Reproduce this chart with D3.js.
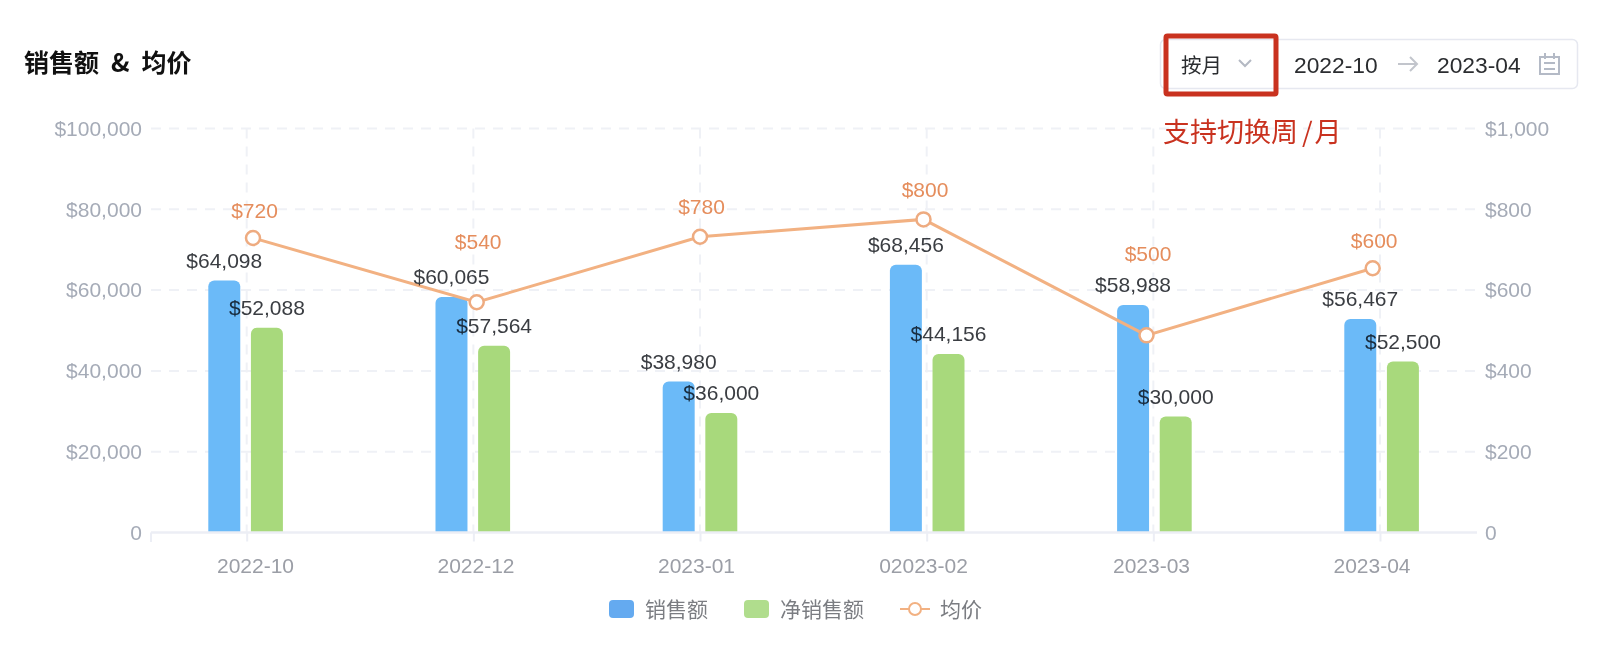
<!DOCTYPE html>
<html lang="zh">
<head>
    <meta charset="UTF-8">
    <title>销售额 & 均价</title>
    <script src="https://d3js.org/d3.v7.min.js"></script>
    <style>
        html, body { margin: 0; padding: 0; background: #fff; overflow: hidden; }
        text { font-family: "Liberation Sans", "Noto Sans CJK SC", sans-serif; }
        .cjk { font-family: "Noto Sans CJK SC", sans-serif; }
        .onbar { mix-blend-mode: multiply; }
    </style>
</head>
<body>
    <svg id="chart"></svg>

    <script>
        // values
        const categories = ["2022-10", "2022-12", "2023-01", "02023-02", "2023-03", "2023-04"];
        const salesBars = [62400, 58300, 37400, 66300, 56300, 52850];
        const netBars = [50700, 46200, 29600, 44200, 28700, 42300];
        const avgLine = [729, 570, 732, 775, 488, 654];

        // the printed labels do not agree with the bar heights in the original
        const salesLabels = [64098, 60065, 38980, 68456, 58988, 56467];
        const netLabels = [52088, 57564, 36000, 44156, 30000, 52500];
        const avgLabels = [720, 540, 780, 800, 500, 600];

        const leftTicks = [0, 20000, 40000, 60000, 80000, 100000];
        const rightTicks = [0, 200, 400, 600, 800, 1000];
        const legendNames = ["销售额", "净销售额", "均价"];

        // how far above its point each average label sits
        const avgLabelLift = [27, 61, 30, 30, 82, 28];

        const width = 1600;
        const height = 655;
        const money = d3.format("$,");
        const axisMoney = d => d === 0 ? "0" : money(d);

        const blue = "#6bbaf8", green = "#a8d97c", orange = "#f2b182";
        const red = "#c9321f";

        const svg = d3.select("#chart")
            .attr("width", width)
            .attr("height", height)
            .style("display", "block");

        // scales. the original is a retouched screenshot: grid, bars, line and
        // x labels are each spaced a little differently
        const x = d3.scalePoint().domain(categories).range([246.7, 1380]);
        const barX = d3.scalePoint().domain(categories).range([246.7, 1382.7]);
        const labelX = d3.scaleOrdinal().domain(categories).range([255, 475.5, 696, 923, 1151, 1371.5]);
        const lineX = d3.scaleOrdinal().domain(categories).range([253, 476.7, 700, 923.5, 1146.5, 1372.7]);
        const group = d3.scaleBand().domain(["sales", "net"]).range([-38.4, 36.2]).paddingInner(0.25);
        const yLeft = d3.scaleLinear().domain([0, 100000]).range([532.5, 128.5]);
        const yRight = d3.scaleLinear().domain([0, 1000]).range([532.5, 128.5]);

        // grid
        const gridStyle = sel => sel
            .attr("stroke", "#eff1f6")
            .attr("stroke-width", 2)
            .attr("stroke-dasharray", "10 8");

        svg.append("g").selectAll("line")
            .data(leftTicks.slice(1))
            .join("line")
            .attr("x1", 151).attr("x2", 1477)
            .attr("y1", d => yLeft(d)).attr("y2", d => yLeft(d))
            .call(gridStyle);

        svg.append("g").selectAll("line")
            .data(categories)
            .join("line")
            .attr("x1", d => x(d)).attr("x2", d => x(d))
            .attr("y1", 128.5).attr("y2", 532)
            .call(gridStyle);

        // y axes, labels only
        const yAxisLeft = svg.append("g")
            .attr("transform", "translate(151,0)")
            .call(d3.axisLeft(yLeft).tickValues(leftTicks).tickFormat(axisMoney).tickSize(0).tickPadding(9));
        const yAxisRight = svg.append("g")
            .attr("transform", "translate(1477,0)")
            .call(d3.axisRight(yRight).tickValues(rightTicks).tickFormat(axisMoney).tickSize(0).tickPadding(8));
        [yAxisLeft, yAxisRight].forEach(g => {
            g.select(".domain").remove();
            g.selectAll("text")
                .attr("fill", "#a5abb7")
                .style("font-family", "'Liberation Sans'")
                .style("font-size", "21px");
        });

        // bars, rounded on top only
        function topRounded(cx, w, yTop, yBase, r) {
            const p = d3.path();
            p.moveTo(cx, yBase);
            p.lineTo(cx, yTop + r);
            p.arcTo(cx, yTop, cx + r, yTop, r);
            p.lineTo(cx + w - r, yTop);
            p.arcTo(cx + w, yTop, cx + w, yTop + r, r);
            p.lineTo(cx + w, yBase);
            p.closePath();
            return p.toString();
        }

        const barSeries = [
            { key: "sales", values: salesBars, labels: salesLabels, color: blue },
            { key: "net", values: netBars, labels: netLabels, color: green }
        ];

        barSeries.forEach(s => {
            svg.append("g").selectAll("path")
                .data(categories)
                .join("path")
                .attr("fill", s.color)
                .attr("d", (c, i) => topRounded(barX(c) + group(s.key), group.bandwidth(), yLeft(s.values[i]), yLeft(0), 6));
        });

        // x axis: the ticks follow the grid, the labels sit slightly to the right of them
        const xTicks = svg.append("g")
            .attr("transform", "translate(0,532.5)")
            .call(d3.axisBottom(x).tickFormat("").tickSizeOuter(0).tickSizeInner(9));
        xTicks.select(".domain").remove();
        xTicks.selectAll("line").attr("stroke", "#eceef5").attr("stroke-width", 2);

        svg.append("line")
            .attr("x1", 151).attr("x2", 1477)
            .attr("y1", 532.5).attr("y2", 532.5)
            .attr("stroke", "#eceef5").attr("stroke-width", 2.5);
        svg.append("line")
            .attr("x1", 151).attr("x2", 151)
            .attr("y1", 532.5).attr("y2", 542)
            .attr("stroke", "#eceef5").attr("stroke-width", 2);

        const xLabels = svg.append("g")
            .attr("transform", "translate(0,532.5)")
            .call(d3.axisBottom(labelX).tickSize(0).tickPadding(26));
        xLabels.select(".domain").remove();
        xLabels.selectAll("text")
            .attr("fill", "#9b9ea6")
            .style("font-family", "'Liberation Sans'")
            .style("font-size", "21px");

        // average price line
        const line = d3.line()
            .x((d, i) => lineX(categories[i]))
            .y(d => yRight(d));

        svg.append("path")
            .datum(avgLine)
            .attr("fill", "none")
            .attr("stroke", orange)
            .attr("stroke-width", 3)
            .attr("d", line);

        svg.append("g").selectAll("circle")
            .data(avgLine)
            .join("circle")
            .attr("cx", (d, i) => lineX(categories[i]))
            .attr("cy", d => yRight(d))
            .attr("r", 7)
            .attr("fill", "#fff")
            .attr("stroke", "#eeab80")
            .attr("stroke-width", 2.5);

        // value labels
        barSeries.forEach(s => {
            svg.append("g").selectAll("text")
                .data(categories)
                .join("text")
                .attr("class", "onbar")
                .attr("x", c => barX(c) + group(s.key) + group.bandwidth() / 2)
                .attr("y", (c, i) => yLeft(s.values[i]) - 20)
                .attr("dy", "0.35em")
                .attr("text-anchor", "middle")
                .attr("font-size", 21)
                .attr("fill", "#3a3d42")
                .text((c, i) => money(s.labels[i]));
        });

        svg.append("g").selectAll("text")
            .data(avgLine)
            .join("text")
            .attr("x", (d, i) => lineX(categories[i]) + 1.5)
            .attr("y", (d, i) => yRight(d) - avgLabelLift[i])
            .attr("dy", "0.35em")
            .attr("text-anchor", "middle")
            .attr("font-size", 21)
            .attr("fill", "#e58d5c")
            .text((d, i) => money(avgLabels[i]));

        // title
        const title = svg.append("text")
            .attr("class", "cjk")
            .attr("x", 24).attr("y", 72)
            .attr("font-size", 25)
            .attr("font-weight", 700)
            .attr("fill", "#111");
        title.append("tspan").text("销售额");
        title.append("tspan").attr("dx", 12).text("&");
        title.append("tspan").attr("dx", 12).text("均价");

        // legend
        const legend = svg.append("g");
        const legendText = (name, xPos) => legend.append("text")
            .attr("class", "cjk")
            .attr("x", xPos).attr("y", 617)
            .attr("font-size", 21)
            .attr("fill", "#7b7d82")
            .text(name);
        const swatch = (xPos, color) => legend.append("rect")
            .attr("x", xPos).attr("y", 600)
            .attr("width", 25).attr("height", 18)
            .attr("rx", 4)
            .attr("fill", color);

        swatch(609, "#64aaf0");
        legendText(legendNames[0], 645);
        swatch(744, "#b0dd8d");
        legendText(legendNames[1], 780);
        legend.append("line")
            .attr("x1", 900).attr("x2", 930)
            .attr("y1", 609).attr("y2", 609)
            .attr("stroke", orange).attr("stroke-width", 2);
        legend.append("circle")
            .attr("cx", 915).attr("cy", 609).attr("r", 6)
            .attr("fill", "#fff").attr("stroke", orange).attr("stroke-width", 2);
        legendText(legendNames[2], 940);

        // period picker in the top right corner
        const picker = svg.append("g");
        picker.append("rect")
            .attr("x", 1160.5).attr("y", 39.5)
            .attr("width", 417).attr("height", 49)
            .attr("rx", 5)
            .attr("fill", "#fff")
            .attr("stroke", "#e6e8f0")
            .attr("stroke-width", 1.5);
        picker.append("text")
            .attr("class", "cjk")
            .attr("x", 1181).attr("y", 72.5)
            .attr("font-size", 20.5)
            .attr("fill", "#2b2d30")
            .text("按月");
        picker.append("path")
            .attr("d", "M1239 60l6 6 6-6")
            .attr("fill", "none")
            .attr("stroke", "#b4b9c3")
            .attr("stroke-width", 2);
        picker.append("text")
            .attr("x", 1294).attr("y", 72.5)
            .attr("font-size", 22.8)
            .attr("fill", "#2b2d30")
            .text("2022-10");
        picker.append("path")
            .attr("d", "M1398 64h19M1410 57l7 7-7 7")
            .attr("fill", "none")
            .attr("stroke", "#c2c5cc")
            .attr("stroke-width", 2);
        picker.append("text")
            .attr("x", 1437).attr("y", 72.5)
            .attr("font-size", 22.8)
            .attr("fill", "#2b2d30")
            .text("2023-04");
        picker.append("path")
            .attr("d", "M1540 57h19v17h-19zM1545 53v6M1554 53v6M1544 63h11M1544 69h11")
            .attr("fill", "none")
            .attr("stroke", "#b4bac6")
            .attr("stroke-width", 2);

        // red annotation
        picker.append("rect")
            .attr("x", 1166).attr("y", 36)
            .attr("width", 110).attr("height", 58)
            .attr("rx", 1.5)
            .attr("fill", "none")
            .attr("stroke", red)
            .attr("stroke-width", 5);
        const note = svg.append("text")
            .attr("class", "cjk")
            .attr("x", 1163).attr("y", 142)
            .attr("font-size", 27)
            .attr("fill", red);
        note.append("tspan").text("支持切换周");
        note.append("tspan").attr("dx", 4).text("/");
        note.append("tspan").attr("dx", 2).text("月");
    </script>
</body>
</html>
